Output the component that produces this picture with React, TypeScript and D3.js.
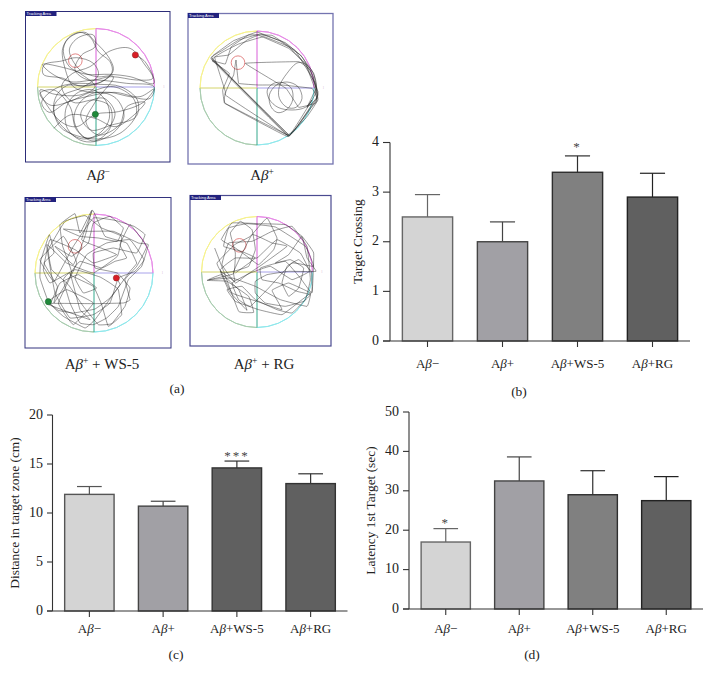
import React from "react";
import * as d3 from "d3";

const categories = ["Aβ−", "Aβ+", "Aβ+WS-5", "Aβ+RG"];

const crossingValues = [2.5, 2.0, 3.4, 2.9];
const crossingTops = [2.95, 2.4, 3.73, 3.38];
const distanceValues = [11.9, 10.7, 14.6, 13.0];
const distanceTops = [12.7, 11.2, 15.3, 14.0];
const latencyValues = [17, 32.5, 29, 27.5];
const latencyTops = [20.4, 38.6, 35.1, 33.6];

const crossingTicks = [0, 1, 2, 3, 4];
const distanceTicks = [0, 5, 10, 15, 20];
const latencyTicks = [0, 10, 20, 30, 40, 50];

// Swim paths, in a 405-unit arena crop
const pathNeg: [number, number][] = [
  [316,120],[345,140],[372,205],[300,185],[240,178],[170,178],[110,160],[38,148],[60,172],[120,200],[200,195],[290,205],[372,215],[360,250],[300,245],[240,232],[180,232],[130,215],[105,160],[98,100],[122,65],[165,52],[195,80],[235,125],[250,165],[225,195],[165,212],[110,212],[78,245],[72,295],[108,345],[160,372],[212,352],[238,310],[230,262],[190,225],[140,235],[108,280],[112,340],[150,375],[192,380],[248,355],[282,305],[258,250],[200,232],[150,262],[132,315],[165,368],[225,350],[255,295],[222,250],[175,262],[152,300],[182,345],[245,330],[318,305],[322,255],[272,215],[205,208],[130,206],[78,220],[35,262],[58,292],[110,262],[170,245],[252,232],[330,245],[372,222],[340,262],[265,290],[196,298],[140,335],[90,318],[30,225],
  [75,238],[150,240],[195,215],[150,175],[118,155],[100,110],[112,72],[150,52],[182,68],[205,110],[240,140],[246,172],[205,205],[145,212],[100,190],[40,178],[42,150],[95,138],[140,128],[190,145],[205,180],[155,218],[100,240],[72,275],[90,335],[140,362],[205,372],[270,355],[318,300],[310,250],[250,215],[185,230],[112,262],[60,270],[30,235],[72,225],[120,275],[140,345],[192,378],[240,340],[240,275],[195,255],[130,262],[95,215],[128,175],[180,155],[240,108],[300,100],[345,150],[368,190],[320,195],[245,185],[175,195],[135,165],[155,120],[195,95],[190,60],[145,68],[118,105],[150,165],[200,185],[250,185],[195,262],[168,322],[205,360],[268,330],[290,275],[345,262],[300,310],[255,335],[195,310],[120,300],[72,340]
];
const pathPos: [number, number][] = [
  [60,115],[290,348],[358,262],[376,232],[364,170],[330,110],[280,68],[205,42],[140,60],[90,92],[60,115],[290,346],[100,250],[92,210],[112,160],[60,122],[100,132],[118,80],[170,45],[240,46],[310,92],[370,190],[378,240],[352,268],[290,348],[100,225],[125,165],[132,120],[140,190],[200,195],[270,195],[360,205],[375,235],[345,262],[372,205],[355,150],[320,125],[160,130],[282,205],[320,262],[370,250],[378,215],[345,140],[290,80],[215,50],[140,72],[62,118],[292,345],[362,250],[378,225],[365,160],[325,105],[262,62],[195,36],[125,62],[72,100],[58,118],[285,345],[345,290],[375,245],[370,210],[340,130],[290,85],[200,46],[165,60],[110,105],[68,112],[100,215],[98,250],[288,350],[360,240]
];
const pathPosLoops: [number, number][] = [
  [360,240],[340,262],[300,270],[258,262],[232,238],[226,210],[245,190],[272,188],[298,205],[302,240],[285,268],[258,278],[238,262],[232,225],[252,196],[285,186],[318,200],[330,235],[312,262],[285,262],[262,235],[262,200],[285,160],[318,128],[345,135],[368,170],[372,215],[345,262]
];
const pathWs: [number, number][] = [
  [259,225],[270,245],[240,285],[195,318],[130,330],[85,322],[55,296],[30,225],[32,175],[58,95],[72,150],[42,180],[82,250],[72,300],[125,210],[98,130],[90,65],[135,32],[150,90],[185,22],[165,100],[130,185],[75,130],[125,160],[175,120],[190,60],[240,40],[280,75],[262,115],[205,105],[150,100],[100,78],[170,85],[250,85],[325,120],[355,125],[335,190],[295,230],[265,310],[230,345],[190,365],[150,360],[120,300],[100,230],[120,210],[150,320],[180,350],[50,302],[190,302],[280,300],[300,290],[285,230],[320,190],[350,130],[300,65],[270,125],[290,165],[255,175],[215,195],[150,175],[120,215],[190,250],[215,305],[235,370],[275,335],[265,260],[240,240],[210,222],[135,200],[60,240],[40,200],[60,110],[135,140],[190,180],[260,155],[200,130],[155,110],[188,22],[225,100],[290,120],[320,180],[300,205],[260,260],[195,350],[165,375],[100,340],[55,296],[110,260],[190,300],
  [130,365],[85,300],[140,180],[100,100],[30,170],[72,235],[130,130],[190,45],[255,52],[312,70],[345,95],[320,150],[250,135],[190,150],[195,195],[262,210],[300,255],[285,310],[245,362],[205,365],[160,310],[115,245],[65,200],[55,140],[105,55],[165,38],[215,75],[275,100],[262,160],[190,210],[110,180],[50,125],[75,270],[120,345],[190,335],[240,300],[265,225],[315,205],[342,170],[300,110],[230,120],[170,155],[135,225],[160,270],[200,255],[145,215],[90,240],[60,305]
];
const pathRg: [number, number][] = [
  [68,135],[95,205],[140,325],[185,328],[170,280],[105,235],[45,232],[125,212],[130,150],[115,90],[145,55],[180,80],[190,140],[170,190],[125,205],[90,210],[75,180],[128,125],[175,100],[225,45],[255,105],[245,140],[200,185],[165,160],[130,135],[88,110],[120,60],[200,62],[280,65],[330,100],[365,150],[360,270],[325,225],[280,175],[205,195],[210,230],[260,240],[315,265],[355,275],[335,295],[280,310],[220,300],[190,270],[190,235],[225,215],[290,205],[372,205],[345,165],[330,100],[290,155],[250,180],[295,170],[335,195],[320,255],[290,280],[270,240],[285,190],[320,170],[358,205],[360,265],[330,290],[270,335],[200,320],[130,295],[105,260],[150,250],[190,290],[255,320],[300,330],[340,290],[355,230],[345,130],[300,70],[240,85],[180,115],[110,120],[90,185],[130,240],[165,215],[210,185],[285,130],[240,120],[180,95],[125,205],[128,235],[85,205],
  [112,265],[165,322],[140,260],[90,215],[50,230],[120,225],[190,250],[265,290],[345,310],[355,270],[290,240],[240,262],[270,320],[195,295],[120,270],[85,200],[130,165],[195,165],[255,110],[325,150],[352,205],[300,230],[235,190],[175,210],[120,240],[140,290],[175,310],[230,255],[300,180],[365,190],[340,130],[250,72],[165,62],[110,75],[95,130],[148,145],[190,165],[130,210]
];

const quadrantColors = ["#e78be7", "#8fe8ec", "#a9cdb0", "#f6f28e"];
const spokeColors = ["#d85fd8", "#a8a2ea", "#35a88c", "#d4d46a"];

function Arena({ x0, y0, cx, cy, r, crop, path, extraPath, frame, frameWidth, red, green, circle, curve }: any) {
  const sx = d3.scaleLinear().domain([0, 405]).range([crop[0], crop[0] + 135]);
  const sy = d3.scaleLinear().domain([0, 405]).range([crop[1], crop[1] + 135]);
  const line = d3.line<[number, number]>().x(d => sx(d[0])).y(d => sy(d[1])).curve(curve);
  const smoothLine = d3.line<[number, number]>().x(d => sx(d[0])).y(d => sy(d[1])).curve(d3.curveCatmullRom.alpha(0.5));
  const arc = d3.arc<any>().innerRadius(r).outerRadius(r);
  return (
    <g>
      <rect x={x0[0]} y={y0[0]} width={x0[1] - x0[0]} height={y0[1] - y0[0]} fill="#fff" stroke={frame} strokeWidth={frameWidth} />
      <rect x={x0[0]} y={y0[0] - 0.5} width={31} height={5} fill="#22227e" />
      <text x={x0[0] + 1} y={y0[0] + 3.6} fontSize={4} fill="#fff" fontFamily="Liberation Sans">Tracking Area</text>
      {quadrantColors.map((c, i) => (
        <path key={i} transform={`translate(${cx},${cy})`} fill="none" stroke={c} strokeWidth={1}
          d={arc({ startAngle: (i * Math.PI) / 2, endAngle: ((i + 1) * Math.PI) / 2 }) || ""} />
      ))}
      {spokeColors.map((c, i) => {
        const a = (i * Math.PI) / 2;
        return <line key={i} x1={cx} y1={cy} x2={cx + r * Math.sin(a)} y2={cy - r * Math.cos(a)} stroke={c} strokeWidth={1} />;
      })}
      <circle cx={sx(circle[0])} cy={sy(circle[1])} r={6.8} fill="none" stroke="#e07878" strokeWidth={0.9} />
      <text x={cx + r + 9} y={cy + 1} fontSize={3} fill="#c9a0c9">l</text>
      <path d={line(path) || ""} fill="none" stroke="#1c1c1c" strokeWidth={0.45} />
      {extraPath && <path d={smoothLine(extraPath) || ""} fill="none" stroke="#1c1c1c" strokeWidth={0.45} />}
      {red && <circle cx={sx(red[0])} cy={sy(red[1])} r={3.1} fill="#d81f26" stroke="#8a2020" strokeWidth={0.5} />}
      {green && <circle cx={sx(green[0])} cy={sy(green[1])} r={3.1} fill="#1f8a3a" stroke="#1c5a2c" strokeWidth={0.5} />}
    </g>
  );
}

function PanelName({ x, y, sup, rest }: any) {
  return (
    <text x={x} y={y} textAnchor="middle" fontSize={15} fontFamily="Liberation Serif" fill="#222">
      A<tspan fontStyle="italic">β</tspan><tspan dy={-5} fontSize={9.5}>{sup}</tspan><tspan dy={5}>{rest}</tspan>
    </text>
  );
}

function CategoryLabel({ x, y, label }: any) {
  return (
    <text x={x} y={y} textAnchor="middle" fontSize={13} fontFamily="Liberation Serif" fill="#222">
      A<tspan fontStyle="italic">β</tspan>{label.slice(2)}
    </text>
  );
}

function BarPanel({ values, tops, ticks, domainMax, fills, strokes, xRange, yRange, axisLeft, title, titleX, labelY, star, starValue, starIndex, caption, captionX, captionY }: any) {
  const x = d3.scaleBand<string>().domain(categories).range(xRange).paddingInner(0.33).paddingOuter(0.165);
  const y = d3.scaleLinear().domain([0, domainMax]).range(yRange);
  const bw = x.bandwidth();
  const cap = bw / 4;
  const axisColor = "#333";
  return (
    <g>
      {categories.map((c, i) => {
        const cx = (x(c) as number) + bw / 2;
        return (
          <g key={c}>
            <line x1={cx} x2={cx} y1={y(values[i])} y2={y(tops[i])} stroke={strokes[i]} strokeWidth={1.2} />
            <line x1={cx - cap} x2={cx + cap} y1={y(tops[i])} y2={y(tops[i])} stroke={strokes[i]} strokeWidth={1.2} />
            <rect x={x(c)} y={y(values[i])} width={bw} height={y(0) - y(values[i])} fill={fills[i]} stroke={strokes[i]} strokeWidth={1.4} />
            <line x1={cx} x2={cx} y1={y(0)} y2={y(0) + 6} stroke={axisColor} strokeWidth={1.1} />
            <CategoryLabel x={cx} y={labelY} label={c} />
          </g>
        );
      })}
      <line x1={xRange[0]} x2={xRange[0]} y1={y(0)} y2={y(domainMax)} stroke={axisColor} strokeWidth={1.1} />
      <line x1={axisLeft} x2={xRange[1]} y1={y(0)} y2={y(0)} stroke={axisColor} strokeWidth={1.1} />
      {ticks.map((t: number) => (
        <g key={t}>
          <line x1={axisLeft} x2={xRange[0]} y1={y(t)} y2={y(t)} stroke={axisColor} strokeWidth={1.1} />
          <text x={axisLeft - 4} y={y(t) + 3.5} textAnchor="end" fontSize={14} fontFamily="Liberation Serif" fill="#222">{t}</text>
        </g>
      ))}
      <text transform={`translate(${titleX},${(y(0) + y(domainMax)) / 2}) rotate(-90)`} textAnchor="middle" fontSize={13.4} fontFamily="Liberation Serif" fill="#222">{title}</text>
      <text x={(x(categories[starIndex]) as number) + bw / 2} y={y(starValue)} textAnchor="middle" fontSize={13} letterSpacing={2} fontFamily="Liberation Serif" fill="#444">{star}</text>
      <text x={captionX} y={captionY} textAnchor="middle" fontSize={13.5} fontFamily="Liberation Serif" fill="#222">{caption}</text>
    </g>
  );
}

const fillsA = ["#d4d4d4", "#a1a0a5", "#808080", "#606060"];
const strokesA = ["#666", "#444", "#2e2e2e", "#222"];
const fillsC = ["#d4d4d4", "#a1a0a5", "#606060", "#606060"];
const strokesC = ["#555", "#444", "#333", "#333"];

export default function App() {
  const curve = d3.curveCatmullRom.alpha(0.5);
  return (
    <svg width={712} height={681} style={{ position: "absolute", left: 0, top: 0, background: "#fff" }}>
      <Arena x0={[25.5, 170]} y0={[11.5, 162]} cx={96} cy={87} r={58.5} crop={[30, 15]} path={pathNeg} frame="#2c2c78" frameWidth={1} red={[316, 120]} green={[196, 298]} circle={[136, 137]} curve={curve} />
      <Arena x0={[188, 333]} y0={[13.5, 164]} cx={257} cy={88} r={57} crop={[192, 20]} path={pathPos} extraPath={pathPosLoops} frame="#7474b0" frameWidth={1.3} circle={[138, 128]} curve={d3.curveCardinal.tension(0.85)} />
      <Arena x0={[25, 171]} y0={[197.5, 348]} cx={94} cy={273} r={59} crop={[30, 203]} path={pathWs} frame="#33337e" frameWidth={1} red={[259, 225]} green={[55, 296]} circle={[135, 130]} curve={d3.curveCardinal.tension(0.75)} />
      <Arena x0={[190, 331]} y0={[195.5, 346]} cx={257} cy={272} r={55.5} crop={[192, 203]} path={pathRg} frame="#4a4a90" frameWidth={1.2} circle={[142, 127]} curve={d3.curveCardinal.tension(0.75)} />

      <PanelName x={98} y={180} sup="−" rest="" />
      <PanelName x={262} y={180} sup="+" rest="" />
      <PanelName x={102} y={369} sup="+" rest=" + WS-5" />
      <PanelName x={264} y={369} sup="+" rest=" + RG" />
      <text x={177} y={393} textAnchor="middle" fontSize={13.5} fontFamily="Liberation Serif" fill="#222">(a)</text>

      <BarPanel values={crossingValues} tops={crossingTops} ticks={crossingTicks} domainMax={4} fills={fillsA} strokes={strokesA}
        xRange={[390, 690]} yRange={[341, 142.5]} axisLeft={383} title="Target Crossing" titleX={362} labelY={368}
        star="*" starValue={3.83} starIndex={2} caption="(b)" captionX={519} captionY={396} />
      <BarPanel values={distanceValues} tops={distanceTops} ticks={distanceTicks} domainMax={20} fills={fillsC} strokes={strokesC}
        xRange={[52.5, 347.5]} yRange={[611, 415]} axisLeft={47} title="Distance in target zone (cm)" titleX={19} labelY={633}
        star="***" starValue={15.45} starIndex={2} caption="(c)" captionX={176} captionY={659} />
      <BarPanel values={latencyValues} tops={latencyTops} ticks={latencyTicks} domainMax={50} fills={fillsA} strokes={strokesA}
        xRange={[409, 703]} yRange={[609, 412]} axisLeft={403} title="Latency 1st Target (sec)" titleX={375} labelY={633}
        star="*" starValue={20.9} starIndex={0} caption="(d)" captionX={532} captionY={659} />
    </svg>
  );
}
